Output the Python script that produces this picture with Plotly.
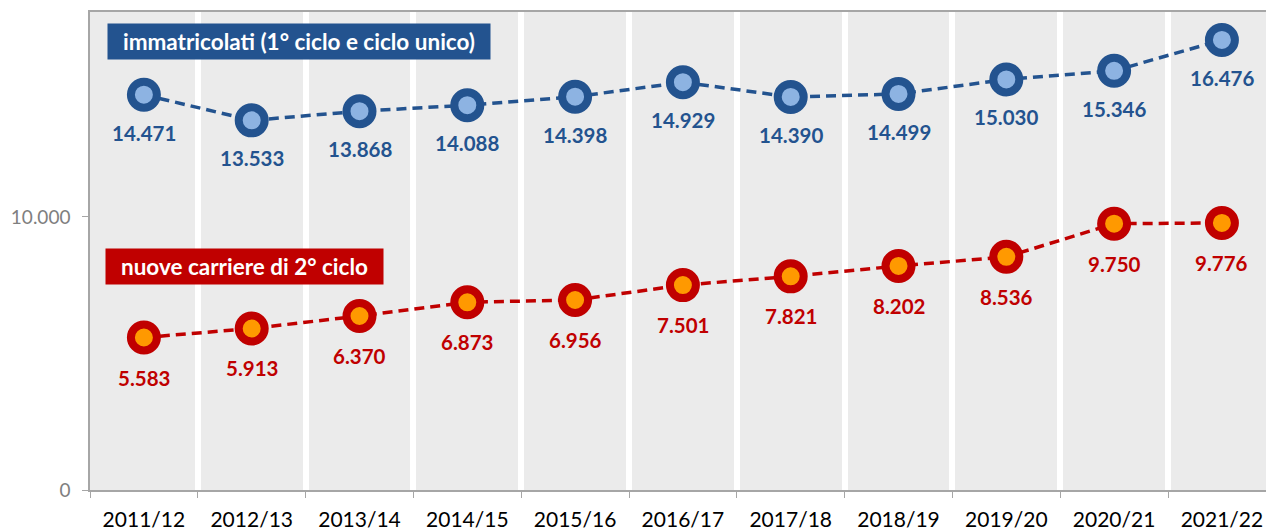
import plotly.graph_objects as go

anni = ['2011/12', '2012/13', '2013/14', '2014/15', '2015/16', '2016/17',
        '2017/18', '2018/19', '2019/20', '2020/21', '2021/22']
immatricolati = [14471, 13533, 13868, 14088, 14398, 14929, 14390, 14499, 15030, 15346, 16476]
nuove_carriere = [5583, 5913, 6370, 6873, 6956, 7501, 7821, 8202, 8536, 9750, 9776]

blu = '#23538F'
blu_chiaro = '#8DB3E2'
rosso = '#C00000'
arancio = '#FF9900'
font = 'Lato'


def fmt(v):
    return f'{v:,}'.replace(',', '.')


x = list(range(len(anni)))

fig = go.Figure()
fig.add_trace(go.Scatter(
    x=x, y=immatricolati, mode='lines+markers',
    line=dict(color=blu, width=3.5, dash='10px,6px'),
    marker=dict(size=26, color=blu_chiaro, line=dict(color=blu, width=8)),
    hoverinfo='y', showlegend=False))
fig.add_trace(go.Scatter(
    x=x, y=nuove_carriere, mode='lines+markers',
    line=dict(color=rosso, width=3.5, dash='10px,6px'),
    marker=dict(size=26, color=arancio, line=dict(color=rosso, width=8)),
    hoverinfo='y', showlegend=False))

annotazioni = []
for i, v in enumerate(immatricolati):
    annotazioni.append(dict(x=i, y=v, text=fmt(v), showarrow=False, yshift=-38,
                            font=dict(family=font, size=20.5, color=blu, weight='bold')))
for i, v in enumerate(nuove_carriere):
    annotazioni.append(dict(x=i, y=v, text=fmt(v), showarrow=False, yshift=-40,
                            font=dict(family=font, size=20.5, color=rosso, weight='bold')))

annotazioni.append(dict(xref='paper', yref='paper', x=0.0145, y=0.938, xanchor='left', yanchor='middle',
                        text='  immatricolati (1° ciclo e ciclo unico)  ', showarrow=False,
                        bgcolor=blu, borderpad=4,
                        font=dict(family=font, size=22.5, color='white', weight='bold')))
annotazioni.append(dict(xref='paper', yref='paper', x=0.0128, y=0.4676, xanchor='left', yanchor='middle',
                        text='  nuove carriere di 2° ciclo  ', showarrow=False,
                        bgcolor=rosso, borderpad=4,
                        font=dict(family=font, size=22.5, color='white', weight='bold')))

fig.update_layout(
    width=1266, height=532,
    margin=dict(l=90, r=0, t=12, b=42),
    plot_bgcolor='#EBEBEB', paper_bgcolor='white',
    separators=',.',
    annotations=annotazioni,
    font=dict(family=font),
)
# l'ultima categoria esce dal bordo destro come nell'originale
fig.update_xaxes(
    range=[-0.5, 10.409], tickmode='array', tickvals=x, ticktext=anni,
    showgrid=False, ticks='', zeroline=False, automargin=False,
    tickfont=dict(family=font, size=21, color='black'), ticklabelstandoff=10,
    ticklabeloverflow='allow',
    showline=True, linecolor='#A6A6A6', linewidth=1.5, mirror=True,
    minor=dict(tickmode='array', tickvals=[i - 0.5 for i in range(len(anni))],
               showgrid=True, gridcolor='white', gridwidth=6,
               ticks='outside', ticklen=6, tickcolor='#A6A6A6'),
)
fig.update_yaxes(
    range=[0, 17500], tickvals=[0, 10000], ticktext=['0', '10.000'],
    showgrid=False, zeroline=False, ticks='outside', ticklen=6, tickcolor='#A6A6A6',
    automargin=False, ticklabelstandoff=8,
    tickfont=dict(family=font, size=19, color='#7F7F7F'),
    showline=True, linecolor='#A6A6A6', linewidth=1.5, mirror=False,
)

# margine del body a zero, così la figura riempie esattamente la finestra
fig.write_html('out.html', config={'displayModeBar': False},
               post_script="document.body.style.margin='0';")
